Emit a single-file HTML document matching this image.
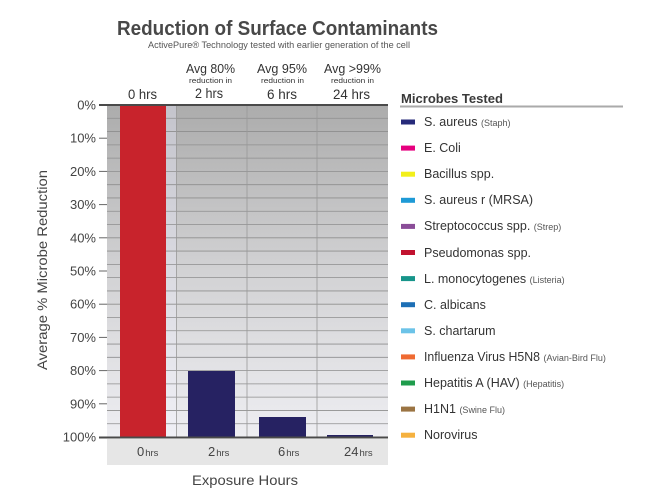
<!DOCTYPE html>
<html><head><meta charset="utf-8"><style>
html,body{margin:0;padding:0;background:#fff;}
svg{display:block;font-family:"Liberation Sans",sans-serif;}
</style></head><body>
<svg width="650" height="502" viewBox="0 0 650 502" xmlns="http://www.w3.org/2000/svg">
<defs>
<linearGradient id="bg" x1="0" y1="0" x2="0" y2="1">
<stop offset="0" stop-color="#acacac"/>
<stop offset="0.5" stop-color="#d2d2d4"/>
<stop offset="1" stop-color="#eeeef2"/>
</linearGradient>
<linearGradient id="bg2" x1="0" y1="0" x2="0" y2="1">
<stop offset="0" stop-color="#c4c4cc"/>
<stop offset="1" stop-color="#f0f0f6"/>
</linearGradient>
</defs>
<!-- title -->
<text x="117" y="35" font-size="20" font-weight="bold" fill="#484848" textLength="321" lengthAdjust="spacingAndGlyphs">Reduction of Surface Contaminants</text>
<text x="148" y="48" font-size="9" fill="#555" textLength="262" lengthAdjust="spacingAndGlyphs">ActivePure® Technology tested with earlier generation of the cell</text>
<!-- column headers -->
<g fill="#333">
<text x="186" y="73" font-size="13" textLength="49" lengthAdjust="spacingAndGlyphs">Avg 80%</text>
<text x="189" y="83" font-size="7" textLength="43" lengthAdjust="spacingAndGlyphs">reduction in</text>
<text x="195" y="98" font-size="14" textLength="28" lengthAdjust="spacingAndGlyphs">2 hrs</text>
<text x="128" y="99" font-size="14" textLength="29" lengthAdjust="spacingAndGlyphs">0 hrs</text>
<text x="257" y="73" font-size="13" textLength="50" lengthAdjust="spacingAndGlyphs">Avg 95%</text>
<text x="261" y="83" font-size="7" textLength="43" lengthAdjust="spacingAndGlyphs">reduction in</text>
<text x="267" y="99" font-size="14" textLength="30" lengthAdjust="spacingAndGlyphs">6 hrs</text>
<text x="324" y="73" font-size="13" textLength="57" lengthAdjust="spacingAndGlyphs">Avg &gt;99%</text>
<text x="331" y="83" font-size="7" textLength="43" lengthAdjust="spacingAndGlyphs">reduction in</text>
<text x="333" y="99" font-size="14" textLength="37" lengthAdjust="spacingAndGlyphs">24 hrs</text>
</g>
<!-- plot background -->
<rect x="107" y="105" width="281" height="332" fill="url(#bg)"/>
<rect x="166" y="105" width="10" height="332" fill="url(#bg2)"/>
<!-- horizontal grid every 4% -->
<g stroke="#8e8e8e" stroke-width="0.8">
<line x1="107" x2="388" y1="118.28" y2="118.28"/><line x1="107" x2="388" y1="131.56" y2="131.56"/>
<line x1="107" x2="388" y1="144.84" y2="144.84"/><line x1="107" x2="388" y1="158.12" y2="158.12"/>
<line x1="107" x2="388" y1="171.4" y2="171.4"/><line x1="107" x2="388" y1="184.68" y2="184.68"/>
<line x1="107" x2="388" y1="197.96" y2="197.96"/><line x1="107" x2="388" y1="211.24" y2="211.24"/>
<line x1="107" x2="388" y1="224.52" y2="224.52"/><line x1="107" x2="388" y1="237.8" y2="237.8"/>
<line x1="107" x2="388" y1="251.08" y2="251.08"/><line x1="107" x2="388" y1="264.36" y2="264.36"/>
<line x1="107" x2="388" y1="277.64" y2="277.64"/><line x1="107" x2="388" y1="290.92" y2="290.92"/>
<line x1="107" x2="388" y1="304.2" y2="304.2"/><line x1="107" x2="388" y1="317.48" y2="317.48"/>
<line x1="107" x2="388" y1="330.76" y2="330.76"/><line x1="107" x2="388" y1="344.04" y2="344.04"/>
<line x1="107" x2="388" y1="357.32" y2="357.32"/><line x1="107" x2="388" y1="370.6" y2="370.6"/>
<line x1="107" x2="388" y1="383.88" y2="383.88"/><line x1="107" x2="388" y1="397.16" y2="397.16"/>
<line x1="107" x2="388" y1="410.44" y2="410.44"/><line x1="107" x2="388" y1="423.72" y2="423.72"/>
</g>
<g stroke="#999" stroke-width="0.8">
<line x1="176.5" x2="176.5" y1="105" y2="437"/>
<line x1="247" x2="247" y1="105" y2="437"/>
<line x1="317" x2="317" y1="105" y2="437"/>
</g>
<!-- major ticks -->
<g stroke="#666" stroke-width="1">
<line x1="99" x2="107" y1="138.2" y2="138.2"/><line x1="99" x2="107" y1="171.4" y2="171.4"/>
<line x1="99" x2="107" y1="204.6" y2="204.6"/><line x1="99" x2="107" y1="237.8" y2="237.8"/>
<line x1="99" x2="107" y1="271" y2="271"/><line x1="99" x2="107" y1="304.2" y2="304.2"/>
<line x1="99" x2="107" y1="337.4" y2="337.4"/><line x1="99" x2="107" y1="370.6" y2="370.6"/>
<line x1="99" x2="107" y1="403.8" y2="403.8"/>
</g>
<!-- bars -->
<rect x="120" y="105" width="46" height="332" fill="#c8232c"/>
<rect x="188" y="371" width="47" height="66" fill="#262262"/>
<rect x="259" y="417" width="47" height="20" fill="#262262"/>
<rect x="327" y="435" width="46" height="2" fill="#262262"/>
<!-- axis lines -->
<line x1="99" x2="388" y1="105" y2="105" stroke="#4a4a4a" stroke-width="2"/>
<line x1="99" x2="388" y1="437.5" y2="437.5" stroke="#4a4a4a" stroke-width="2"/>
<!-- y labels -->
<g font-size="13" fill="#444" text-anchor="end">
<text x="96" y="109.5">0%</text>
<text x="96" y="142.7">10%</text>
<text x="96" y="175.9">20%</text>
<text x="96" y="209.1">30%</text>
<text x="96" y="242.3">40%</text>
<text x="96" y="275.5">50%</text>
<text x="96" y="308.7">60%</text>
<text x="96" y="341.9">70%</text>
<text x="96" y="375.1">80%</text>
<text x="96" y="408.3">90%</text>
<text x="96" y="441.5">100%</text>
</g>
<text transform="translate(47,270) rotate(-90)" x="0" y="0" font-size="14" fill="#444" text-anchor="middle" textLength="200" lengthAdjust="spacingAndGlyphs">Average % Microbe Reduction</text>
<!-- x label band -->
<rect x="107" y="439" width="281" height="26" fill="#e6e6e6"/>
<g fill="#444">
<text x="137" y="456"><tspan font-size="13">0</tspan><tspan font-size="9.5" dx="1">hrs</tspan></text>
<text x="208" y="456"><tspan font-size="13">2</tspan><tspan font-size="9.5" dx="1">hrs</tspan></text>
<text x="278" y="456"><tspan font-size="13">6</tspan><tspan font-size="9.5" dx="1">hrs</tspan></text>
<text x="344" y="456"><tspan font-size="13">24</tspan><tspan font-size="9.5" dx="1">hrs</tspan></text>
</g>
<text x="192" y="485" font-size="14" fill="#444" textLength="106" lengthAdjust="spacingAndGlyphs">Exposure Hours</text>
<!-- legend -->
<text x="401" y="103" font-size="13" font-weight="bold" fill="#3a3a3a" textLength="102" lengthAdjust="spacingAndGlyphs">Microbes Tested</text>
<line x1="400" x2="623" y1="106.5" y2="106.5" stroke="#aaa" stroke-width="2"/>
<g>
<rect x="401" y="119.5" width="14" height="5" fill="#262a7a"/>
<rect x="401" y="145.6" width="14" height="5" fill="#e6007e"/>
<rect x="401" y="171.7" width="14" height="5" fill="#f2ef1a"/>
<rect x="401" y="197.8" width="14" height="5" fill="#1e9ad6"/>
<rect x="401" y="223.9" width="14" height="5" fill="#8a4d98"/>
<rect x="401" y="250" width="14" height="5" fill="#c1122f"/>
<rect x="401" y="276.1" width="14" height="5" fill="#17958a"/>
<rect x="401" y="302.2" width="14" height="5" fill="#1d6fb5"/>
<rect x="401" y="328.3" width="14" height="5" fill="#6cc3e8"/>
<rect x="401" y="354.4" width="14" height="5" fill="#ef6a32"/>
<rect x="401" y="380.5" width="14" height="5" fill="#1f9c4c"/>
<rect x="401" y="406.6" width="14" height="5" fill="#9b7443"/>
<rect x="401" y="432.7" width="14" height="5" fill="#f5b13f"/>
</g>
<g fill="#333" font-size="12.5">
<text x="424" y="126">S. aureus <tspan font-size="9" fill="#555">(Staph)</tspan></text>
<text x="424" y="152">E. Coli</text>
<text x="424" y="178">Bacillus spp.</text>
<text x="424" y="204">S. aureus r (MRSA)</text>
<text x="424" y="230">Streptococcus spp. <tspan font-size="9" fill="#555">(Strep)</tspan></text>
<text x="424" y="257">Pseudomonas spp.</text>
<text x="424" y="283">L. monocytogenes <tspan font-size="9" fill="#555">(Listeria)</tspan></text>
<text x="424" y="309">C. albicans</text>
<text x="424" y="335">S. chartarum</text>
<text x="424" y="361"><tspan textLength="116" lengthAdjust="spacingAndGlyphs">Influenza Virus H5N8</tspan> <tspan font-size="9" fill="#555">(Avian-Bird Flu)</tspan></text>
<text x="424" y="387">Hepatitis A (HAV) <tspan font-size="9" fill="#555">(Hepatitis)</tspan></text>
<text x="424" y="413">H1N1 <tspan font-size="9" fill="#555">(Swine Flu)</tspan></text>
<text x="424" y="439">Norovirus</text>
</g>
</svg>
</body></html>
